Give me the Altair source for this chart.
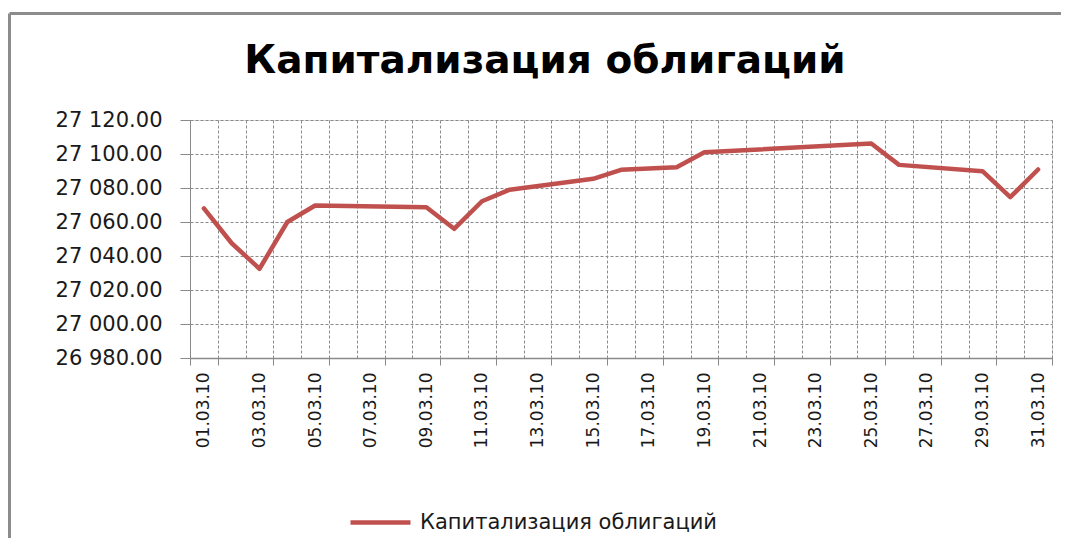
import altair as alt
import pandas as pd

TITLE = "Капитализация облигаций"
SERIES = "Капитализация облигаций"

# all calendar days shown on the category (date) axis
all_days = [
    "01.03.10", "02.03.10", "03.03.10", "04.03.10", "05.03.10", "06.03.10",
    "07.03.10", "08.03.10", "09.03.10", "10.03.10", "11.03.10", "12.03.10",
    "13.03.10", "14.03.10", "15.03.10", "16.03.10", "17.03.10", "18.03.10",
    "19.03.10", "20.03.10", "21.03.10", "22.03.10", "23.03.10", "24.03.10",
    "25.03.10", "26.03.10", "27.03.10", "28.03.10", "29.03.10", "30.03.10",
    "31.03.10",
]
# labelled days (every second day)
label_days = [
    "01.03.10", "03.03.10", "05.03.10", "07.03.10", "09.03.10", "11.03.10",
    "13.03.10", "15.03.10", "17.03.10", "19.03.10", "21.03.10", "23.03.10",
    "25.03.10", "27.03.10", "29.03.10", "31.03.10",
]
# observed data points
dates = [
    "01.03.10", "02.03.10", "03.03.10", "04.03.10", "05.03.10", "09.03.10",
    "10.03.10", "11.03.10", "12.03.10", "15.03.10", "16.03.10", "18.03.10",
    "19.03.10", "25.03.10", "26.03.10", "29.03.10", "30.03.10", "31.03.10",
]
values = [
    27068.0, 27047.5, 27032.5, 27060.0, 27069.7, 27068.7,
    27056.0, 27072.2, 27079.0, 27085.4, 27090.7, 27092.2,
    27101.0, 27106.2, 27093.6, 27089.9, 27074.6, 27090.9,
]
y_ticks = [26980, 27000, 27020, 27040, 27060, 27080, 27100, 27120]

df = pd.DataFrame({"date": dates, "value": values, "series": [SERIES] * len(dates)})

FONT = "DejaVu Sans"
GRID = "#8a8a8a"
RED = "#C0504D"

x_scale = alt.Scale(type="band", domain=all_days, paddingInner=0, paddingOuter=0)
y_scale = alt.Scale(domain=[y_ticks[0], y_ticks[-1]], nice=False, zero=False)
y_axis = alt.Axis(
    title=None, values=y_ticks,
    labelExpr="replace(format(datum.value, ',.2f'), ',', ' ')",
    labelFont=FONT, labelFontSize=21, labelColor="#1a1a1a", labelPadding=18,
    tickSize=10, tickColor=GRID, domainColor=GRID,
    grid=True, gridColor=GRID, gridDash=[3, 2], gridWidth=1,
)

line = alt.Chart(df).mark_line(strokeWidth=4.5, strokeCap="round", strokeJoin="round").encode(
    x=alt.X("date:O", scale=x_scale, bandPosition=0.5,
            axis=alt.Axis(orient="bottom", title=None, grid=True, tickBand="extent",
                          gridColor=GRID, gridDash=[3, 2], gridWidth=1,
                          ticks=False, labels=False, domainColor=GRID, domainWidth=1.5)),
    y=alt.Y("value:Q", scale=y_scale, axis=y_axis),
    color=alt.Color("series:N", scale=alt.Scale(domain=[SERIES], range=[RED]),
                    legend=alt.Legend(title=None, orient="none", legendX=158, legendY=370,
                                      symbolType="stroke", symbolSize=3600,
                                      symbolStrokeWidth=4.5, labelFont=FONT,
                                      labelFontSize=21, labelColor="#1a1a1a",
                                      labelOffset=7, labelLimit=0, padding=0)),
)

labels_layer = alt.Chart(df).mark_line(opacity=0).encode(
    x=alt.X("date:O", scale=x_scale, bandPosition=0.5,
            axis=alt.Axis(orient="bottom", title=None, values=label_days, tickBand="extent",
                          grid=False, domain=False, ticks=True, tickSize=7, tickColor=GRID,
                          labelAngle=270, labelAlign="right", labelBaseline="middle",
                          labelFont=FONT, labelFontSize=17, labelColor="#1a1a1a",
                          labelPadding=7)),
    y=alt.Y("value:Q", scale=y_scale, axis=y_axis),
)

frame_df = pd.DataFrame({"k": [0]})
frame_top = alt.Chart(frame_df).mark_rule(color="#8c8c8c", strokeWidth=3).encode(
    x=alt.value(-180.5), x2=alt.value(871), y=alt.value(-106.5))
frame_left = alt.Chart(frame_df).mark_rule(color="#8c8c8c", strokeWidth=3).encode(
    x=alt.value(-180.5), y=alt.value(-106.5), y2=alt.value(418))

chart = alt.layer(line, labels_layer, frame_top, frame_left).resolve_axis(
    x="independent"
).properties(
    width=862, height=238,
    padding={"left": 0, "top": 4, "right": 0, "bottom": 0},
    title=alt.TitleParams(TITLE, font=FONT, fontSize=39, fontWeight="bold",
                          color="#000000", anchor="middle", frame="group",
                          dx=-76, offset=-69),
).configure_view(
    stroke=GRID, strokeDash=[3, 2], strokeWidth=1
).configure(background="white")

chart.save("out.html", embed_options={"renderer": "svg", "actions": False})
